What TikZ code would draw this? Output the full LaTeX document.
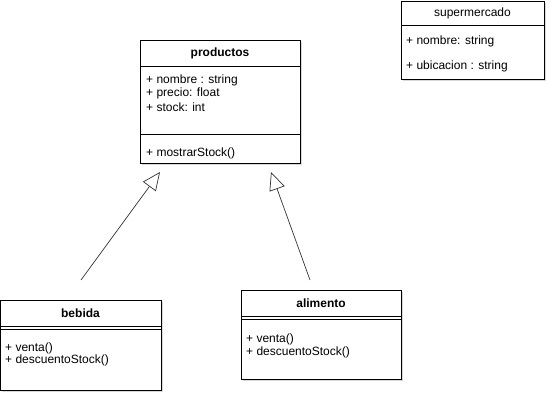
\documentclass[tikz,border=0pt]{standalone}
\usepackage{fontspec}
\setmainfont{Liberation Sans}
\usetikzlibrary{shadows,arrows.meta}
\begin{document}
\begin{tikzpicture}[x=1pt,y=-1pt,
  umlbox/.style={draw=black,fill=white,line width=0.9pt,anchor=north west,inner sep=0pt,
    drop shadow={shadow xshift=2pt,shadow yshift=-2pt,fill=black!30,opacity=0.5}},
  ttl/.style={font=\fontsize{12}{14}\selectfont\bfseries,inner sep=0pt},
  ttlplain/.style={font=\fontsize{12}{14}\selectfont,inner sep=0pt},
  item/.style={font=\fontsize{12}{14}\selectfont,anchor=west,inner sep=0pt},
  sep/.style={line width=0.9pt},
  gen/.style={line width=0.7pt,draw=black!80}]
\useasboundingbox (0,0) rectangle (552,405);
% productos
\node[umlbox,minimum width=160pt,minimum height=123pt] (prod) at (140,40) {};
\draw[sep] (140,66) -- (300,66);
\draw[sep] (140,134) -- (300,134);
\node[ttl] (prodT) at (220,53) {productos};
\node[item] (p1) at (146,80) {+ nombre : string};
\node[item] (p2) at (146,93) {+ precio: float};
\node[item] (p3) at (146,107) {+ stock: int};
\node[item] (p4) at (146,153) {+ mostrarStock()};
% supermercado
\node[umlbox,minimum width=143pt,minimum height=78pt] (sup) at (401,1) {};
\draw[sep] (401,25) -- (544,25);
\node[ttlplain] (supT) at (472.5,13) {supermercado};
\node[item] (s1) at (406,41) {+ nombre: string};
\node[item] (s2) at (406,66) {+ ubicacion : string};
% bebida
\node[umlbox,minimum width=161pt,minimum height=90pt] (beb) at (0,300) {};
\draw[sep] (0,326) -- (161,326);
\draw[sep] (0,329) -- (161,329);
\node[ttl] (bebT) at (80.5,313) {bebida};
\node[item] (b1) at (5,348) {+ venta()};
\node[item] (b2) at (5,360) {+ descuentoStock()};
% alimento
\node[umlbox,minimum width=160pt,minimum height=89pt] (ali) at (241,290) {};
\draw[sep] (241,316) -- (401,316);
\draw[sep] (241,319) -- (401,319);
\node[ttl] (aliT) at (321,303) {alimento};
\node[item] (a1) at (246,339) {+ venta()};
\node[item] (a2) at (246,352) {+ descuentoStock()};
% generalisation arrows
\coordinate (l0) at (81,280);
\coordinate (l1) at (160,172);
\coordinate (r0) at (310,280);
\coordinate (r1) at (271,172);
\draw[gen,-{Triangle[open,length=18pt,width=16pt]}] (l0) -- (l1);
\draw[gen,-{Triangle[open,length=18pt,width=16pt]}] (r0) -- (r1);
\end{tikzpicture}
\end{document}
